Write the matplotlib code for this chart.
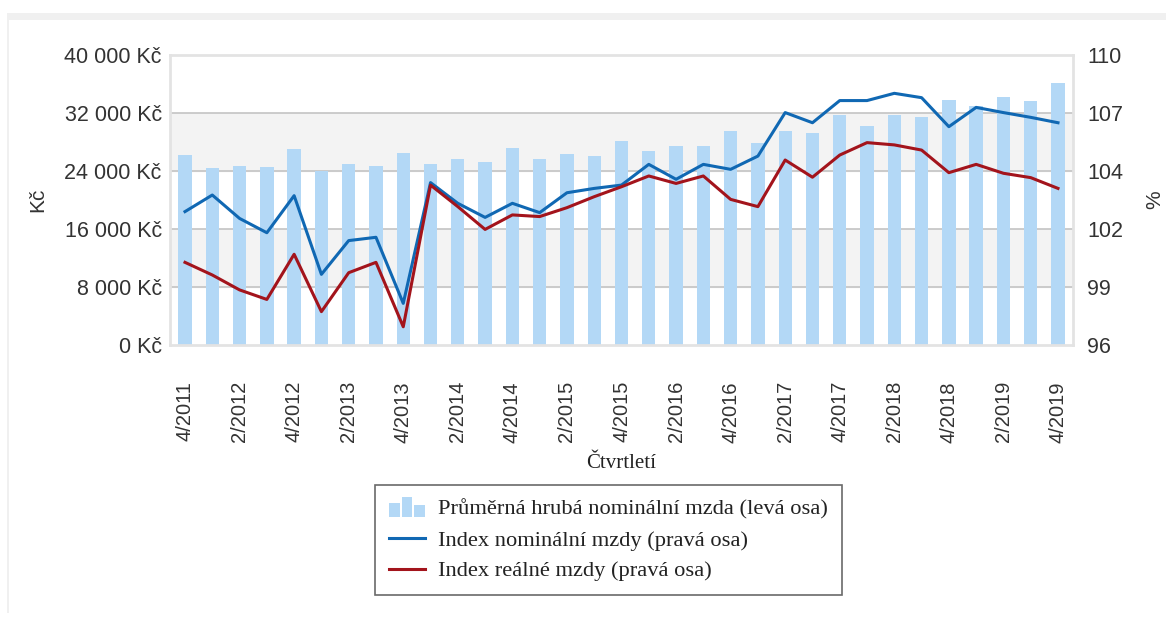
import matplotlib
matplotlib.use("Agg")
import matplotlib.pyplot as plt
from matplotlib.legend_handler import HandlerBase
from matplotlib.lines import Line2D
from matplotlib.patches import Rectangle

# quarters 4/2011 .. 4/2019
quarters = [f"{q}/{y}" for y in range(2011, 2020) for q in (1, 2, 3, 4)][3:]
wage = [26200, 24400, 24700, 24500, 27000, 24050, 24900, 24700, 26550, 24900,
        25600, 25300, 27200, 25600, 26300, 26100, 28150, 26750, 27450, 27450,
        29500, 27900, 29500, 29300, 31700, 30150, 31700, 31500, 33850, 33000,
        34250, 33650, 36200]
idx_nominal = [102.44, 103.24, 102.11, 101.42, 103.21, 99.41, 101.04, 101.20,
               98.01, 103.84, 102.84, 102.16, 102.84, 102.39, 103.35, 103.56,
               103.72, 104.72, 104.00, 104.72, 104.48, 105.12, 107.22, 106.73,
               107.80, 107.80, 108.15, 107.94, 106.54, 107.47, 107.22, 106.99,
               106.73]
idx_real = [99.99, 99.38, 98.66, 98.20, 100.38, 97.61, 99.49, 99.99, 96.88,
            103.72, 102.68, 101.58, 102.28, 102.20, 102.63, 103.16, 103.64,
            104.16, 103.80, 104.16, 103.03, 102.68, 104.93, 104.10, 105.17,
            105.77, 105.66, 105.41, 104.32, 104.72, 104.29, 104.08, 103.56]
left_ticks = [0, 8000, 16000, 24000, 32000, 40000]
left_labels = ["0 Kč", "8 000 Kč", "16 000 Kč", "24 000 Kč", "32 000 Kč", "40 000 Kč"]
right_labels = ["96", "99", "102", "104", "107", "110"]

BAR_COLOR = "#b3d8f6"
BLUE = "#1068b3"
RED = "#a3141c"
SANS = "Liberation Sans"
SERIF = "Liberation Serif"
TXT = "#333333"


class BarIconHandler(HandlerBase):
  # three little bars like the web chart legend icon
  def create_artists(self, legend, orig_handle, xdescent, ydescent,
                     width, height, fontsize, trans):
    w = width / 3.4
    arts = []
    for i, h in enumerate([0.75, 1.15, 0.6]):
      r = Rectangle((-xdescent + i * w * 1.2, -ydescent - 2), w,
                    height * h + 2, facecolor=BAR_COLOR, edgecolor="none",
                    transform=trans)
      arts.append(r)
    return arts


fig = plt.figure(figsize=(11.66, 6.21), dpi=100)

# page frame of the screenshot
fig.patches.append(Rectangle((7 / 1166, 1 - 20 / 621), 1 - 7 / 1166, 7 / 621,
                             transform=fig.transFigure, facecolor="#f0f0f0",
                             edgecolor="none"))
fig.patches.append(Rectangle((7 / 1166, 1 - 613 / 621), 2 / 1166, 600 / 621,
                             transform=fig.transFigure, facecolor="#f0f0f0",
                             edgecolor="none"))

ax = fig.add_axes([170 / 1166, 1 - 345 / 621, 903 / 1166, 290 / 621])
x = list(range(len(wage)))

for lo, hi in [(8000, 16000), (24000, 32000)]:
  ax.axhspan(lo, hi, color="#f3f3f3", zorder=0)
for t in left_ticks[1:-1]:
  ax.axhline(t, color="#c4c4c4", linewidth=1.2, zorder=1)

ax.bar(x, wage, width=0.49, color=BAR_COLOR, zorder=2)
ax.set_xlim(-0.55, len(wage) - 0.45)
ax.set_ylim(0, 40000)
ax.set_yticks(left_ticks)
ax.set_yticklabels(left_labels, fontfamily=SANS, fontsize=15.5, color=TXT)
ax.tick_params(axis="y", length=0, pad=6)
ax.set_xticks(x[::2])
ax.set_xticklabels(quarters[::2], rotation=90, fontfamily=SANS, fontsize=14.5,
                   color=TXT)
ax.tick_params(axis="x", length=0, pad=26)
for s in ax.spines.values():
  s.set_color("#e3e3e3")
  s.set_linewidth(2)
ax.set_ylabel("Kč", fontfamily=SANS, fontsize=15, color=TXT, labelpad=12)
ax.set_xlabel("Čtvrtletí", fontfamily=SERIF, fontsize=15, color="#222222",
              labelpad=8)

ax2 = ax.twinx()
ax2.set_ylim(96, 110)
ax2.set_yticks([96 + i * 2.8 for i in range(6)])
ax2.set_yticklabels(right_labels, fontfamily=SANS, fontsize=15.5, color=TXT)
ax2.tick_params(axis="y", length=0, pad=10)
for s in ax2.spines.values():
  s.set_visible(False)
ax2.plot(x, idx_nominal, color=BLUE, linewidth=2.2, zorder=3)
ax2.plot(x, idx_real, color=RED, linewidth=2.2, zorder=4)
ax2.set_ylabel("%", fontfamily=SANS, fontsize=15, color=TXT, labelpad=16)

handles = [Rectangle((0, 0), 1, 1, facecolor=BAR_COLOR),
           Line2D([], [], color=BLUE, linewidth=2.2),
           Line2D([], [], color=RED, linewidth=2.2)]
labels = ["Průměrná hrubá nominální mzda (levá osa)",
          "Index nominální mzdy (pravá osa)",
          "Index reálné mzdy (pravá osa)"]
leg = fig.legend(handles, labels, loc="upper left",
                 bbox_to_anchor=(375 / 1166, 1 - 485 / 621),
                 handler_map={Rectangle: BarIconHandler()},
                 prop={"family": SERIF, "size": 16.2}, frameon=True,
                 fancybox=False, handlelength=1.6, handletextpad=0.6,
                 labelspacing=0.45, borderpad=0.62, borderaxespad=0)
leg.get_frame().set_edgecolor("#444444")
leg.get_frame().set_linewidth(1.2)
for t in leg.get_texts():
  t.set_color("#222222")

fig.savefig("out.png", dpi=100)
